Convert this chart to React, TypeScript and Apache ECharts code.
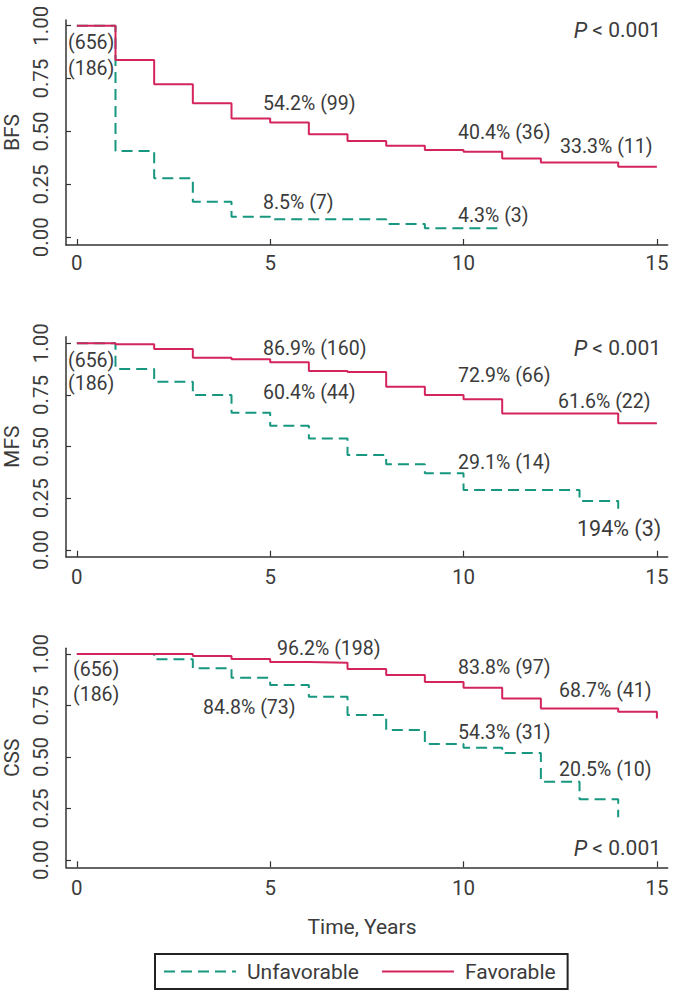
import React, { useEffect, useRef } from "react";
import * as echarts from "echarts";

// ---- data (time in years, survival proportion) ----
const xTicks = [0, 5, 10, 15];
const yTicks = [0, 0.25, 0.5, 0.75, 1];
const panelNames = ["BFS", "MFS", "CSS"];

const bfsFavorable = [[0, 1], [1, 0.838], [2, 0.723], [3, 0.633], [4, 0.562], [5, 0.542], [6, 0.487], [7, 0.455], [8, 0.433], [9, 0.413], [10, 0.404], [11, 0.373], [12, 0.353], [14, 0.333], [15, 0.333]];
const bfsUnfavorable = [[0, 1], [1, 0.408], [2, 0.279], [3, 0.168], [4, 0.097], [5, 0.085], [8, 0.063], [9, 0.043], [11, 0.043]];
const mfsFavorable = [[0, 1], [1, 0.995], [2, 0.972], [3, 0.93], [4, 0.923], [5, 0.908], [6, 0.866], [7, 0.861], [8, 0.79], [9, 0.75], [10, 0.729], [11, 0.661], [14, 0.613], [15, 0.613]];
const mfsUnfavorable = [[0, 1], [1, 0.876], [2, 0.814], [3, 0.75], [4, 0.664], [5, 0.601], [6, 0.54], [7, 0.46], [8, 0.415], [9, 0.371], [10, 0.29], [13, 0.237], [14, 0.2]];
const cssFavorable = [[0, 1], [3, 0.99], [4, 0.976], [5, 0.961], [6, 0.958], [7, 0.927], [8, 0.898], [9, 0.864], [10, 0.836], [11, 0.784], [12, 0.736], [14, 0.72], [15, 0.687]];
const cssUnfavorable = [[0, 1], [2, 0.974], [3, 0.931], [4, 0.885], [5, 0.849], [6, 0.793], [7, 0.704], [8, 0.631], [9, 0.563], [10, 0.545], [11, 0.519], [12, 0.38], [13, 0.295], [14, 0.207]];

const bfsNotes = ["(656)", "(186)", "54.2% (99)", "8.5% (7)", "40.4% (36)", "33.3% (11)", "4.3% (3)"];
const mfsNotes = ["(656)", "(186)", "86.9% (160)", "60.4% (44)", "72.9% (66)", "29.1% (14)", "61.6% (22)", "194% (3)"];
const cssNotes = ["(656)", "(186)", "96.2% (198)", "84.8% (73)", "83.8% (97)", "54.3% (31)", "68.7% (41)", "20.5% (10)"];
const pValue = "{i|P} < 0.001";

// ---- layout / style ----
const GREEN = "#17977f";
const RED = "#d4245c";
const TEXT = "#3b3b3b";
const AXIS = "#333333";
const FONT = "Roboto";
const FS = 19.5;
const AXFS = 20.5;

const grids = [
  { left: 66, top: 20, width: 601.7, height: 225, ymin: -0.0364, ymax: 1.027, labelMargin: 7 },
  { left: 66, top: 336.7, width: 601.7, height: 220, ymin: -0.0324, ymax: 1.032, labelMargin: 10 },
  { left: 66, top: 648.3, width: 601.7, height: 219, ymin: -0.0354, ymax: 1.0277, labelMargin: 10 },
];

// positions for the annotation texts: [left x, center y]
const notePos = [
  [[68, 42], [68, 68], [263, 103], [263, 202], [458, 132], [560, 146], [458, 215]],
  [[68, 360], [68, 383], [263, 348], [263, 392], [458, 375], [458, 462], [558, 401], [577, 528]],
  [[73, 669], [73, 694], [277, 648], [203, 707], [458, 667], [458, 732], [559, 690], [559, 769]],
];
const pPos = [[661, 30], [661, 348], [661, 848]];

export default function App() {
  const ref = useRef<HTMLDivElement>(null);
  useEffect(() => {
    if (!ref.current) return;
    const chart = echarts.init(ref.current, null, { renderer: "svg" });
    const favs = [bfsFavorable, mfsFavorable, cssFavorable];
    const unfs = [bfsUnfavorable, mfsUnfavorable, cssUnfavorable];
    const notes = [bfsNotes, mfsNotes, cssNotes];

    const series: any[] = [];
    for (let i = 0; i < 3; i++) {
      series.push({
        name: "Unfavorable", type: "line", step: "end", xAxisIndex: i, yAxisIndex: i,
        data: unfs[i], symbol: "none", lineStyle: { color: GREEN, width: 2, type: [11, 6] }, itemStyle: { color: GREEN },
      });
      series.push({
        name: "Favorable", type: "line", step: "end", xAxisIndex: i, yAxisIndex: i,
        data: favs[i], symbol: "none", lineStyle: { color: RED, width: 2 }, itemStyle: { color: RED },
      });
    }

    const graphic: any[] = [];
    notes.forEach((arr, i) => {
      arr.forEach((t, j) => {
        const [x, y] = notePos[i][j];
        graphic.push({
          type: "text", x, y, silent: true,
          style: { text: t, fill: TEXT, fontSize: t === "194% (3)" ? 21.5 : FS, fontFamily: FONT, align: "left", verticalAlign: "middle" },
        });
      });
      graphic.push({
        type: "text", x: pPos[i][0], y: pPos[i][1], silent: true,
        style: {
          text: pValue, fill: TEXT, fontSize: 21, fontFamily: FONT, align: "right", verticalAlign: "middle",
          rich: { i: { fontStyle: "italic", fontSize: 22, fontFamily: FONT, fill: TEXT } },
        },
      });
    });
    graphic.push({
      type: "text", x: 362, y: 927, silent: true,
      style: { text: "Time, Years", fill: TEXT, fontSize: 21, fontFamily: FONT, align: "center", verticalAlign: "middle" },
    });

    chart.setOption({
      animation: false,
      textStyle: { fontFamily: FONT },
      grid: grids.map((g) => ({
        left: g.left, top: g.top, width: g.width, height: g.height,
        containLabel: false, outerBoundsMode: "none",
      })),
      xAxis: grids.map((g, i) => ({
        gridIndex: i, type: "value", min: -0.28, max: 15.28,
        axisLine: { show: true, onZero: false, lineStyle: { color: AXIS, width: 1.5 } },
        axisTick: { show: true, inside: true, length: 6, customValues: xTicks, lineStyle: { color: AXIS, width: 1.2 } },
        axisLabel: { customValues: xTicks, fontSize: AXFS, color: TEXT, margin: g.labelMargin, fontFamily: FONT },
        splitLine: { show: false },
      })),
      yAxis: grids.map((g, i) => ({
        gridIndex: i, type: "value", min: g.ymin, max: g.ymax,
        name: panelNames[i], nameLocation: "middle", nameRotate: 90, nameGap: 39,
        nameTextStyle: { fontSize: 21, color: TEXT, fontFamily: FONT },
        axisLine: { show: true, onZero: false, lineStyle: { color: AXIS, width: 1.5 } },
        axisTick: { show: true, inside: true, length: 5, customValues: yTicks, lineStyle: { color: AXIS, width: 1.2 } },
        axisLabel: {
          customValues: yTicks, rotate: 90, fontSize: AXFS, color: TEXT, margin: 15, fontFamily: FONT,
          formatter: (v: number) => v.toFixed(2),
        },
        splitLine: { show: false },
      })),
      legend: {
        data: ["Unfavorable", "Favorable"], left: 155, top: 954, orient: "horizontal",
        itemWidth: 72, itemHeight: 14, itemGap: 22, padding: [7, 12, 7, 8],
        borderColor: "#222", borderWidth: 2, borderRadius: 0,
        itemStyle: { opacity: 0 },
        textStyle: { fontSize: 21, color: TEXT, fontFamily: FONT, padding: [0, 0, 0, 6] },
      },
      series,
      graphic,
    });
    return () => chart.dispose();
  }, []);
  return <div ref={ref} style={{ position: "fixed", left: 0, top: 0, width: 675, height: 1000, background: "#fff" }} />;
}
